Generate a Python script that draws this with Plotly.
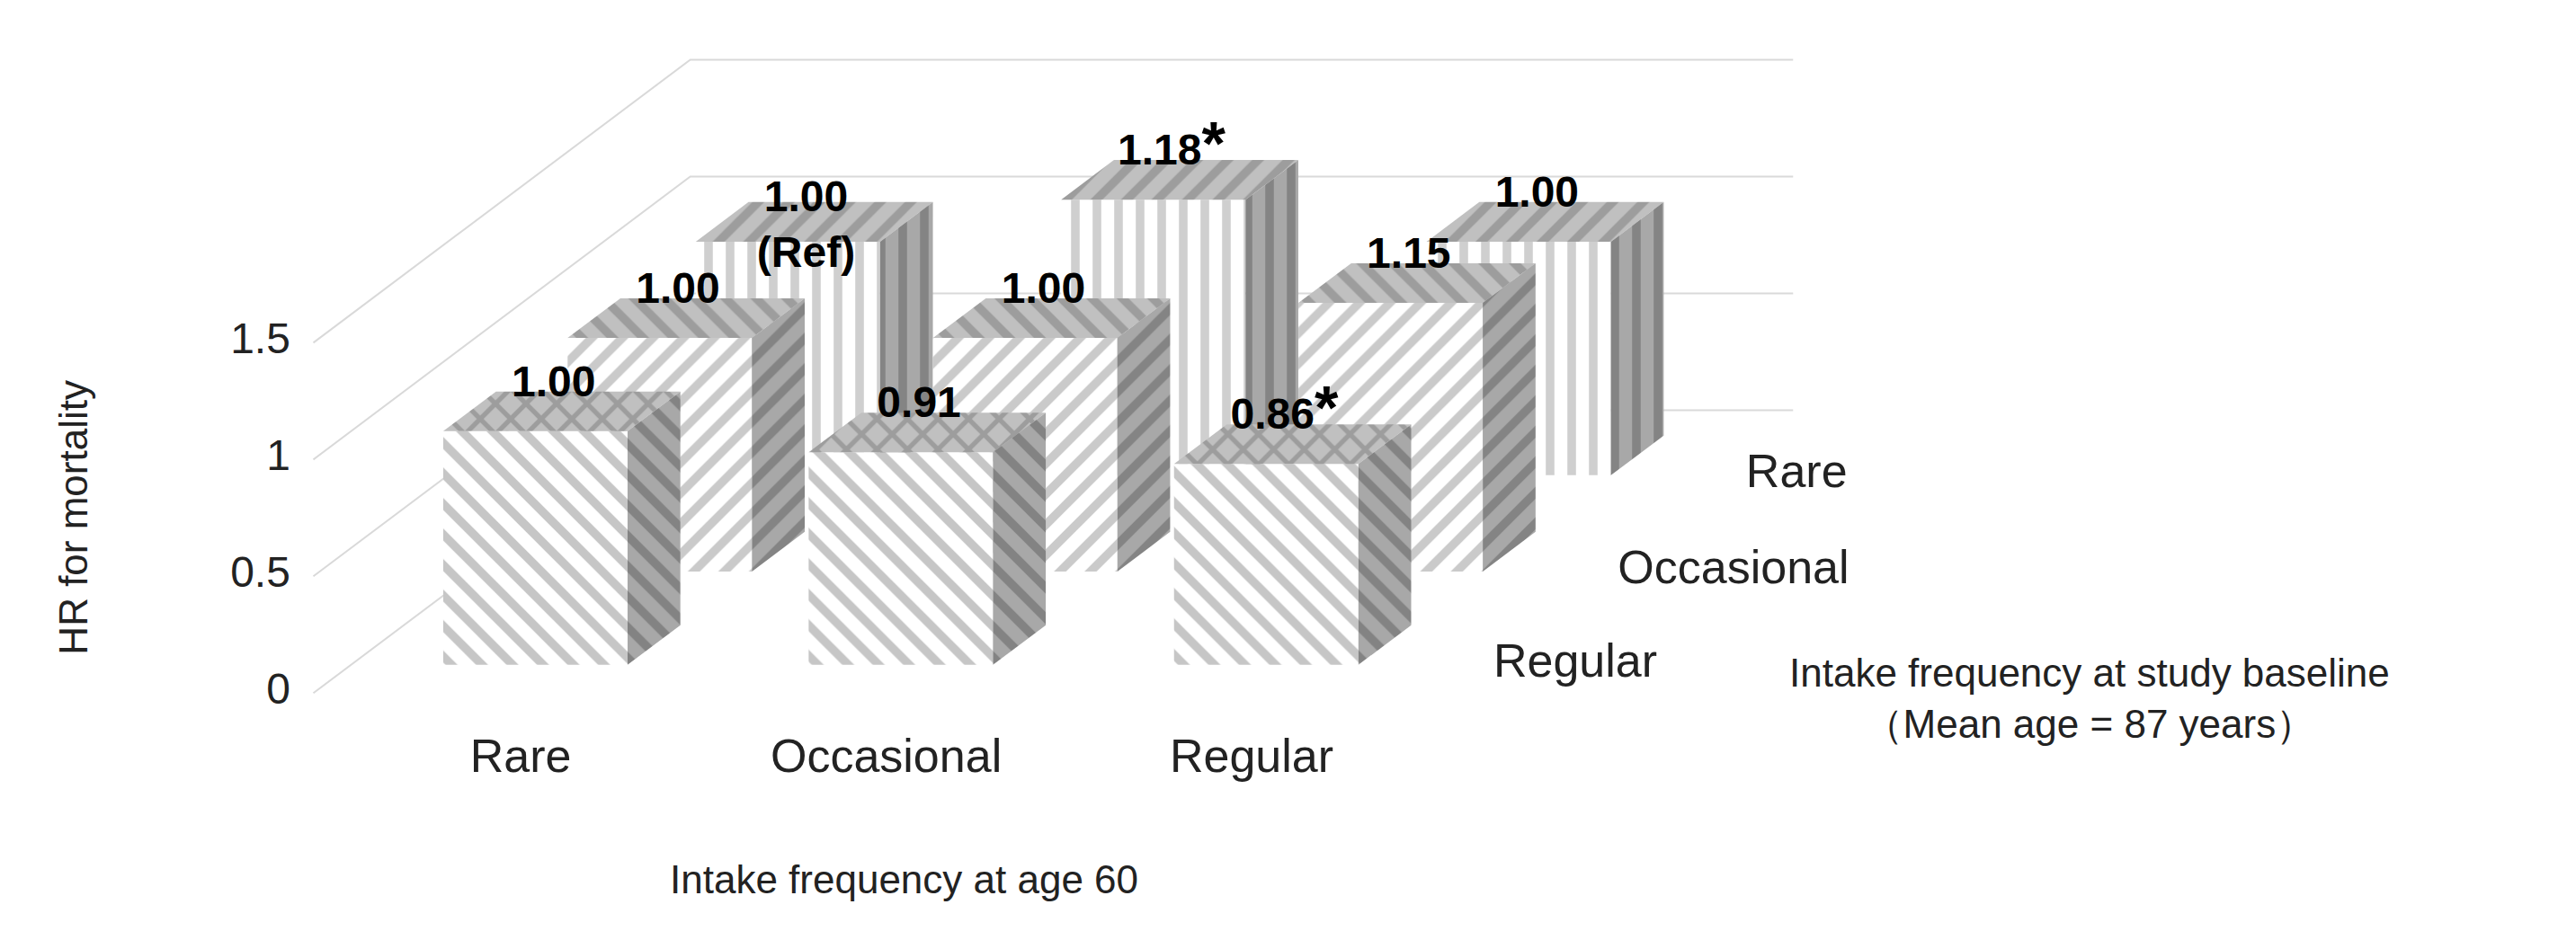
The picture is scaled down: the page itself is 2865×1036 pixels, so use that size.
import plotly.graph_objects as go

age60_cats = ["Rare", "Occasional", "Regular"]
baseline_cats = ["Regular", "Occasional", "Rare"]  # front to back
hr_values = [
    [1.00, 0.91, 0.86],   # baseline Regular (front)
    [1.00, 1.00, 1.15],   # baseline Occasional
    [1.00, 1.18, 1.00],   # baseline Rare (back)
]
hr_labels = [
    ["1.00", "0.91", "0.86<span style='font-size:68px'>*</span>"],
    ["1.00", "1.00", "1.15"],
    ["1.00<br>(Ref)", "1.18<span style='font-size:68px'>*</span>", "1.00"],
]
z_ticks = [0, 0.5, 1, 1.5]
z_tick_labels = ["0", "0.5", "1", "1.5"]

# projection geometry (display units)
X0, Y0, ZS, DX, DY = 186, 417, 142, 229, 172
WALL_W = 670
row_t = [0.10, 0.43, 0.77]
BAR_T = 0.14
col_x = [56, 278, 500]
BAR_W = 112


def P(x, t, z):
    return X0 + x + DX * t, Y0 - ZS * z - DY * t


styles = [
    dict(front=("\\", "#ffffff", "#8e8e8e"), top=("x", "#c0c0c0", "#7a7a7a"), side=("\\", "#a8a8a8", "#5e5e5e")),
    dict(front=("/", "#ffffff", "#959595"), top=("\\", "#c0c0c0", "#7a7a7a"), side=("/", "#a8a8a8", "#606060")),
    dict(front=("|", "#ffffff", "#a0a0a0"), top=("/", "#c0c0c0", "#7a7a7a"), side=("|", "#a8a8a8", "#606060")),
]

fig = go.Figure()

# walls gridlines
gx, gy = [], []
for z in z_ticks:
    a = P(0, 0, z); b = P(0, 1, z); c = P(WALL_W, 1, z)
    gx += [a[0], b[0], c[0], None]
    gy += [a[1], b[1], c[1], None]
fig.add_trace(go.Scatter(x=gx, y=gy, mode="lines", line=dict(color="#d9d9d9", width=2), hoverinfo="skip"))


def poly(pts, st):
    xs = [p[0] for p in pts] + [pts[0][0]]
    ys = [p[1] for p in pts] + [pts[0][1]]
    shape, bg, fg = st
    fig.add_trace(go.Scatter(x=xs, y=ys, mode="lines", fill="toself", line=dict(width=0, color=bg),
                             fillcolor=bg,
                             fillpattern=dict(shape=shape, bgcolor=bg, fgcolor=fg, size=24, solidity=0.4),
                             hoverinfo="skip"))


lab_x, lab_y, lab_t = [], [], []
for i in reversed(range(3)):
    t0, t1 = row_t[i], row_t[i] + BAR_T
    for j in range(3):
        v = hr_values[i][j]
        x0, x1 = col_x[j], col_x[j] + BAR_W
        st = styles[i]
        poly([P(x0, t0, 0), P(x1, t0, 0), P(x1, t0, v), P(x0, t0, v)], st["front"])
        poly([P(x0, t0, v), P(x1, t0, v), P(x1, t1, v), P(x0, t1, v)], st["top"])
        poly([P(x1, t0, 0), P(x1, t1, 0), P(x1, t1, v), P(x1, t0, v)], st["side"])
        cx, cy = P((x0 + x1) / 2, (t0 + t1) / 2, v)
        lab_x.append(cx - 5); lab_y.append(cy - 16 if i != 2 or j != 0 else cy + 4); lab_t.append(hr_labels[i][j])

fig.add_trace(go.Scatter(x=lab_x, y=lab_y, mode="text", text=lab_t,
                         textfont=dict(family="Liberation Sans", size=48, color="black", weight="bold"),
                         hoverinfo="skip"))

# value ticks
fig.add_trace(go.Scatter(x=[172] * len(z_ticks), y=[P(0, 0, z)[1] for z in z_ticks], mode="text",
                         text=z_tick_labels, textposition="middle left",
                         textfont=dict(family="Liberation Sans", size=48, color="#222"), hoverinfo="skip"))
# age60 categories
fig.add_trace(go.Scatter(x=[P(c + BAR_W / 2, 0, 0)[0] + 14 for c in col_x], y=[458] * 3, mode="text",
                         text=age60_cats, textfont=dict(family="Liberation Sans", size=52, color="#222"),
                         hoverinfo="skip"))
# baseline categories
fig.add_trace(go.Scatter(x=[P(WALL_W, t + BAR_T / 2, 0)[0] + 8 for t in row_t],
                         y=[P(WALL_W, t + BAR_T / 2, 0)[1] + 12 for t in row_t], mode="text",
                         text=baseline_cats, textposition="middle right",
                         textfont=dict(family="Liberation Sans", size=52, color="#222"), hoverinfo="skip"))

fig.add_annotation(x=545, y=530, text="Intake frequency at age 60", showarrow=False,
                   font=dict(family="Liberation Sans", size=44, color="#222"))
fig.add_annotation(x=1265, y=420, text="Intake frequency at study baseline<br>（Mean age = 87 years）", showarrow=False,
                   font=dict(family="Liberation Sans", size=44, color="#222"))
fig.add_annotation(x=40, y=310, text="HR for mortality", showarrow=False, textangle=-90,
                   font=dict(family="Liberation Sans", size=44, color="#222"))

fig.update_layout(width=2865, height=1036, margin=dict(l=0, r=0, t=0, b=0), showlegend=False,
                  plot_bgcolor="white", paper_bgcolor="white",
                  xaxis=dict(range=[0, 1565], visible=False, fixedrange=True),
                  yaxis=dict(range=[566, 0], visible=False, fixedrange=True))
fig.write_html("out.html")
